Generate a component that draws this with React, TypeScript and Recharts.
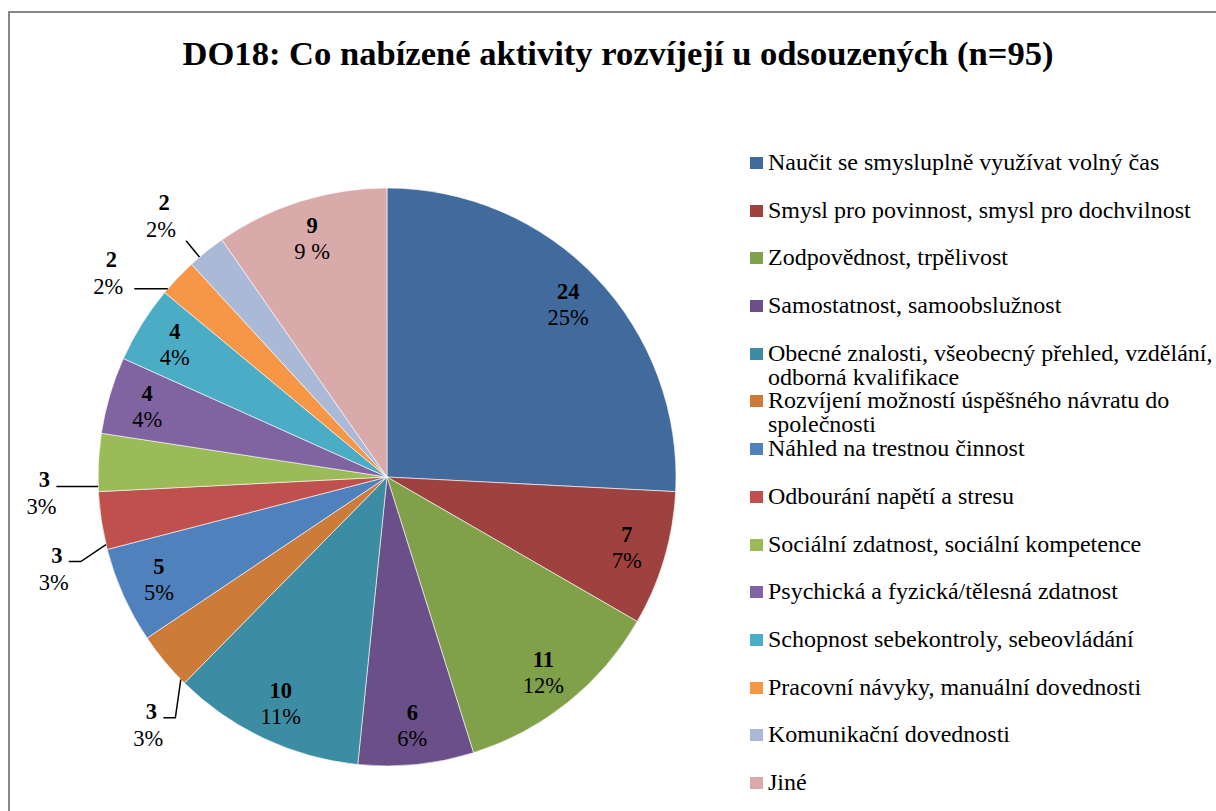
import { PieChart, Pie, Cell, Legend } from 'recharts'

const CATEGORIES = [
  'Naučit se smysluplně využívat volný čas',
  'Smysl pro povinnost, smysl pro dochvilnost',
  'Zodpovědnost, trpělivost',
  'Samostatnost, samoobslužnost',
  'Obecné znalosti, všeobecný přehled, vzdělání, odborná kvalifikace',
  'Rozvíjení možností úspěšného návratu do společnosti',
  'Náhled na trestnou činnost',
  'Odbourání napětí a stresu',
  'Sociální zdatnost, sociální kompetence',
  'Psychická a fyzická/tělesná zdatnost',
  'Schopnost sebekontroly, sebeovládání',
  'Pracovní návyky, manuální dovednosti',
  'Komunikační dovednosti',
  'Jiné',
]
const COUNTS = [24, 7, 11, 6, 10, 3, 5, 3, 3, 4, 4, 2, 2, 9]
const PERCENT_LABELS = ['25%', '7%', '12%', '6%', '11%', '3%', '5%', '3%', '3%', '4%', '4%', '2%', '2%', '9 %']

const COLORS = [
  '#416A9D', '#9F413E', '#80A049', '#6A4F88', '#3C8DA3', '#CD7B38', '#4F81BD',
  '#C0504D', '#9BBB59', '#8064A2', '#4BACC6', '#F79646', '#AAB9D6', '#D9AAAA',
]

const FONT = '"Liberation Serif", "Times New Roman", serif'
const RADIAN = Math.PI / 180

const data = CATEGORIES.map((name, i) => ({ name, value: COUNTS[i], pct: PERCENT_LABELS[i] }))

// slices this small get their label outside, with a leader line
const OUTSIDE_MAX = 3

// outside label angles (degrees clockwise from 12 o'clock), nudged so they don't collide
const TOTAL = COUNTS.reduce((s, v) => s + v, 0)
const outsideAngles: Record<number, { t: number; start: number; end: number }> = {}
{
  let acc = 0
  let prev = -Infinity
  COUNTS.forEach((v, i) => {
    const start = (acc / TOTAL) * 360
    const end = ((acc + v) / TOTAL) * 360
    acc += v
    if (v <= OUTSIDE_MAX) {
      let t = (start + end) / 2 - 7
      if (t < prev + 13) t = prev + 13
      prev = t
      outsideAngles[i] = { t, start, end }
    }
  })
}

const renderLabel = (props: any) => {
  const { cx, cy, midAngle, outerRadius, index, value } = props
  const pct = PERCENT_LABELS[index]
  const o = outsideAngles[index]
  if (!o) {
    const r = outerRadius * 0.865
    const x = cx + r * Math.cos(-midAngle * RADIAN)
    const y = cy + r * Math.sin(-midAngle * RADIAN)
    return (
      <g>
        <text x={x} y={y - 13} textAnchor="middle" dominantBaseline="central" fontFamily={FONT} fontSize={22.5} fontWeight="bold" fill="#000">{value}</text>
        <text x={x} y={y + 13} textAnchor="middle" dominantBaseline="central" fontFamily={FONT} fontSize={22.5} fill="#000">{pct}</text>
      </g>
    )
  }
  const lr = outerRadius + 53
  const lx = cx + lr * Math.sin(o.t * RADIAN)
  const ly = cy - lr * Math.cos(o.t * RADIAN)
  const et = Math.min(Math.max(o.t, o.start + 1), o.end - 1)
  const ex = cx + outerRadius * Math.sin(et * RADIAN)
  const ey = cy - outerRadius * Math.cos(et * RADIAN)
  const side = lx < cx ? 1 : -1
  let points: string
  if (ey - ly > 30) {
    // slice edge sits below the label: plain line up to the label's corner
    points = `${ex},${ey} ${lx + side * 21},${ly + 24}`
  } else {
    const hy = Math.min(Math.max(ey, ly - 8), ly + 19)
    const s0 = hy > ly + 5 ? 22 : 11
    points = `${ex},${ey} ${lx + side * (s0 + 12)},${hy} ${lx + side * s0},${hy}`
  }
  return (
    <g>
      <polyline points={points} fill="none" stroke="#000" strokeWidth={1.5} />
      <text x={lx - 1} y={ly - 14} textAnchor="middle" dominantBaseline="central" fontFamily={FONT} fontSize={22.5} fontWeight="bold" fill="#000">{value}</text>
      <text x={lx - 4} y={ly + 13} textAnchor="middle" dominantBaseline="central" fontFamily={FONT} fontSize={22.5} fill="#000">{pct}</text>
    </g>
  )
}

const LegendContent = () => (
  <div style={{ fontFamily: FONT, fontSize: 24, color: '#000' }}>
    {CATEGORIES.map((name, i) => (
      <div key={i} style={{ position: 'relative', height: 47.7, lineHeight: '24px' }}>
        <span style={{ position: 'absolute', left: 0, top: 7, width: 13, height: 12, background: COLORS[i] }} />
        <div style={{ marginLeft: 18, width: 450, whiteSpace: 'normal' }}>{name}</div>
      </div>
    ))}
  </div>
)

export default function App() {
  return (
    <div style={{ position: 'absolute', left: 0, top: 0, width: 1216, height: 811, overflow: 'hidden', background: '#fff', fontFamily: FONT }}>
      <div style={{ position: 'absolute', left: 8, top: 11, width: 1300, height: 900, border: '2px solid #878787' }} />
      <div style={{ position: 'absolute', left: 0, top: 33, width: 1236, textAlign: 'center', fontSize: 34.6, fontWeight: 'bold', lineHeight: '40px', color: '#000' }}>
        DO18: Co nabízené aktivity rozvíjejí u odsouzených (n=95)
      </div>
      <div style={{ position: 'absolute', left: 0, top: 0 }}>
        <PieChart width={1216} height={811} margin={{ top: 0, right: 0, bottom: 0, left: 0 }}>
          <Pie
            data={data}
            dataKey="value"
            nameKey="name"
            cx={387}
            cy={477}
            outerRadius={289}
            startAngle={90}
            endAngle={-270}
            stroke="#ffffff"
            strokeWidth={0.6}
            label={renderLabel}
            labelLine={false}
            isAnimationActive={false}
          >
            {data.map((_, i) => (
              <Cell key={i} fill={COLORS[i]} />
            ))}
          </Pie>
          <Legend
            layout="vertical"
            content={<LegendContent />}
            wrapperStyle={{ position: 'absolute', left: 750, top: 150, width: 470 }}
          />
        </PieChart>
      </div>
    </div>
  )
}
